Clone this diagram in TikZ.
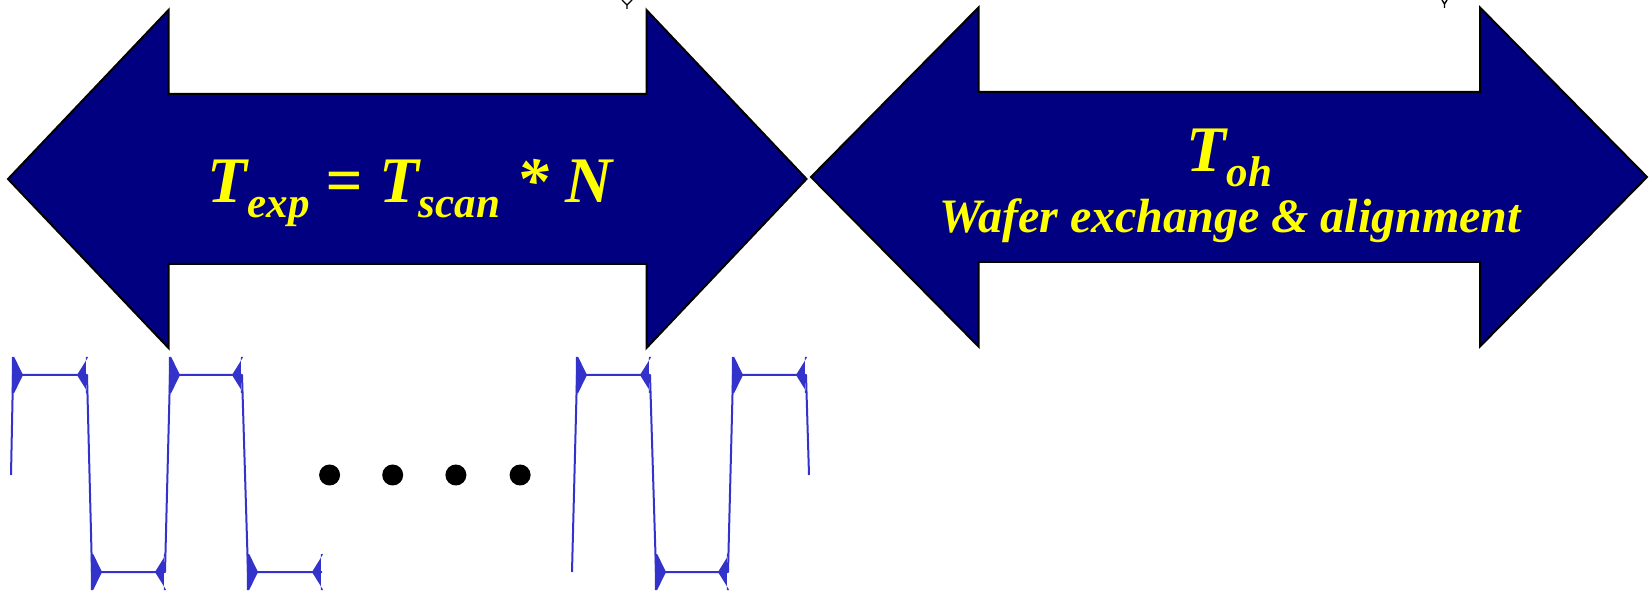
\documentclass[tikz,border=0pt]{standalone}
\usepackage{fontspec}
\setmainfont{Liberation Serif}
\definecolor{navyfill}{RGB}{0,0,128}
\definecolor{txtyellow}{RGB}{255,255,0}
\definecolor{waveblue}{RGB}{51,51,204}
\newcommand\subtxt[1]{\raisebox{-7.5pt}{\fontsize{21.5pt}{24pt}\selectfont #1}}
\begin{document}
\begin{tikzpicture}[x=0.5pt,y=-0.5pt,
  bigarrow/.style={fill=navyfill,draw=black,line width=1pt,line join=miter},
  eqtext/.style={text=txtyellow,font=\fontsize{32.5pt}{36pt}\selectfont\bfseries\itshape,inner sep=0pt},
  subline/.style={text=txtyellow,font=\fontsize{24pt}{28pt}\selectfont\bfseries\itshape,inner sep=0pt},
  wave/.style={draw=waveblue,line width=1pt,line join=round},
  spike/.style={fill=waveblue},
  dotmark/.style={fill=black},
  frag/.style={draw=black,line width=0.7pt}]
\useasboundingbox (0,0) rectangle (1651,593);
% big double arrows
\draw[bigarrow] (8,179) -- (168.5,10) -- (168.5,94) -- (646.5,94) -- (646.5,10) -- (806.5,179)
  -- (646.5,348) -- (646.5,264) -- (168.5,264) -- (168.5,348) -- cycle;
\draw[bigarrow] (811,177) -- (978.5,7.5) -- (978.5,92) -- (1480,92) -- (1480,7.5) -- (1647,177)
  -- (1480,346.5) -- (1480,262) -- (978.5,262) -- (978.5,346.5) -- cycle;
% labels
\node[eqtext,anchor=base] (texp) at (410,203) {T\subtxt{exp} = T\subtxt{scan} * N};
\node[eqtext,anchor=base] (toh) at (1229.5,172) {T\subtxt{oh}};
\node[subline,anchor=base] (wafer) at (1230,233) {Wafer exchange \& alignment};
% small fragments at top
\draw[frag] (622,0) -- (627,5) -- (632,0) (627,5) -- (627,9);
\draw[frag] (1442,0) -- (1444.5,4) -- (1447,0) (1444.5,4) -- (1444.5,8);
% waveforms
\draw[wave] (11,475) -- (13,375) -- (87,375) -- (92,572) -- (165,572) -- (170,375) -- (242,375) -- (248,572) -- (322,572);
\draw[wave] (572,572) -- (577,375) -- (650,375) -- (656,572) -- (728,572) -- (733,375) -- (806,375) -- (809,475);
\foreach \x/\y/\t in {13/375/23, 87/375/77, 92/572/102, 165/572/155, 170/375/180, 242/375/232,
  248/572/258, 322/572/312, 577/375/587, 650/375/640, 656/572/666, 728/572/718, 733/375/743, 806/375/796}
  {\fill[spike] (\x-1.2,\y-18) -- (\x+1.2,\y-18) -- (\t,\y) -- (\x+1.2,\y+18) -- (\x-1.2,\y+18) -- cycle;}
% dots
\foreach \x in {329.6,392.7,455.9,520.1} {\fill[dotmark] (\x,475) circle[radius=10.5];}
\end{tikzpicture}
\end{document}
